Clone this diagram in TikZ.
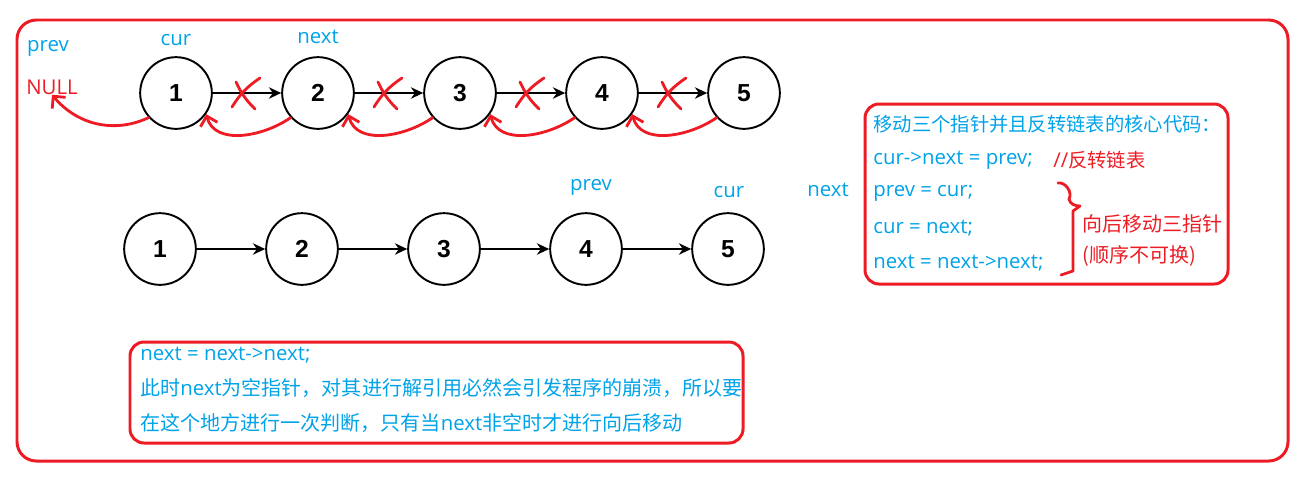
\documentclass[tikz,border=0pt]{standalone}
\usepackage{fontspec}
\setmainfont{Open Sans}
\newfontfamily\cjk{Noto Sans CJK SC}
\newfontfamily\digitfont{Liberation Sans}
\usetikzlibrary{arrows.meta, positioning, calc}
\definecolor{paintred}{HTML}{ED1C24}
\definecolor{paintblue}{HTML}{00A2E8}

\tikzset{
  listnode/.style={circle, draw=black, line width=1.1pt, minimum size=40.8pt, inner sep=0pt,
    font=\digitfont\bfseries\fontsize{14}{16}\selectfont},
  ptrlabel/.style={text=paintblue, inner sep=0pt, font=\fontsize{11.6}{13}\selectfont},
  codeline/.style={ptrlabel, anchor=west},
  notetext/.style={text=paintred, inner sep=0pt, anchor=west, font=\fontsize{11.6}{13}\selectfont},
  redpen/.style={paintred, line width=1.6pt, line cap=round, line join=round},
  backarrow/.style={redpen, -{Straight Barb[length=5pt,width=10pt]}},
  nextarrow/.style={line width=1.1pt, -{Stealth[length=7pt,width=6.5pt]}}
}
\newcommand\hanzi{\cjk\fontsize{11}{13}\selectfont}
\newcommand\hanzibig{\cjk\fontsize{11.4}{13}\selectfont}

\begin{document}
\begin{tikzpicture}[x=0.02cm, y=-0.02cm]
  \useasboundingbox (0,0) rectangle (1310,481);

  % outer frame
  \draw[paintred, line width=1.7pt, rounded corners=11pt] (17,20) rectangle (1288,461);

  % first list, pointers moved while reversing
  \foreach \i in {1,...,5}
    \node[listnode] (t\i) at ({176+142*(\i-1)},93) {\i};
  \foreach \i/\j in {1/2,2/3,3/4,4/5}
    \draw[nextarrow] (t\i) -- (t\j);

  \node[ptrlabel] (prevtop) at (48,48) {prev};
  \node[ptrlabel] (curtop) at (176,40) {cur};
  \node[ptrlabel] (nexttop) at (318,37) {next};
  \node[notetext, anchor=center] (null) at (52,87) {NULL};

  \foreach \i/\j in {1/2,2/3,3/4,4/5} {
    \coordinate (x\i) at ($(t\i)!0.5!(t\j)$);
    \draw[redpen] ([shift={(-15,14)}]x\i) to[bend left=12] ([shift={(13,-15)}]x\i);
    \draw[redpen] ([shift={(-11,-11)}]x\i) to[bend right=10] ([shift={(8,16)}]x\i);
  }

  \draw[backarrow] (t1.222) to[out=205,in=-50] (null.south);
  \foreach \i/\j in {2/1,3/2,4/3,5/4}
    \draw[backarrow] (t\i.222) to[out=215,in=-75] (t\j.-35);

  % second list
  \foreach \i in {1,...,5}
    \node[listnode] (b\i) at ({160+142*(\i-1)},249) {\i};
  \foreach \i/\j in {1/2,2/3,3/4,4/5}
    \draw[nextarrow] (b\i) -- (b\j);

  \node[ptrlabel] (prevbot) at (591,187) {prev};
  \node[ptrlabel] (curbot) at (729,192) {cur};
  \node[ptrlabel] (nextbot) at (828,190) {next};

  % core code box
  \draw[paintred, line width=1.7pt, rounded corners=8pt] (865,104) rectangle (1228,284);
  \node[codeline] (c0) at (873,124) {\hanzi 移动三个指针并且反转链表的核心代码：};
  \node[codeline] (c1) at (873,160) {cur->next = prev;};
  \node[notetext] (c1note) at (1053,160) {//{\hanzi 反转链表}};
  \node[codeline] (c2) at (873,193) {prev = cur;};
  \node[codeline] (c3) at (873,228) {cur = next;};
  \node[codeline] (c4) at (873,263) {next = next->next;};
  \draw[redpen] (1058,183) to[out=10,in=60] (1069,199) to[out=-80,in=180] (1080,206)
    -- (1073,211) -- (1073,271) -- (1061,275);
  \node[notetext] (move) at (1082,224) {\hanzibig 向后移动三指针};
  \node[notetext] (order) at (1082,256) {\hanzibig (顺序不可换)};

  % null check note
  \draw[paintred, line width=1.7pt, rounded corners=8pt] (130,342) rectangle (743,443);
  \node[codeline] (n0) at (140,355) {next = next->next;};
  \node[codeline] (n1) at (140,388) {{\hanzibig 此时}next{\hanzibig 为空指针，对其进行解引用必然会引发程序的崩溃，所以要}};
  \node[codeline] (n2) at (140,423) {{\hanzibig 在这个地方进行一次判断，只有当}next{\hanzibig 非空时才进行向后移动}};
\end{tikzpicture}
\end{document}
